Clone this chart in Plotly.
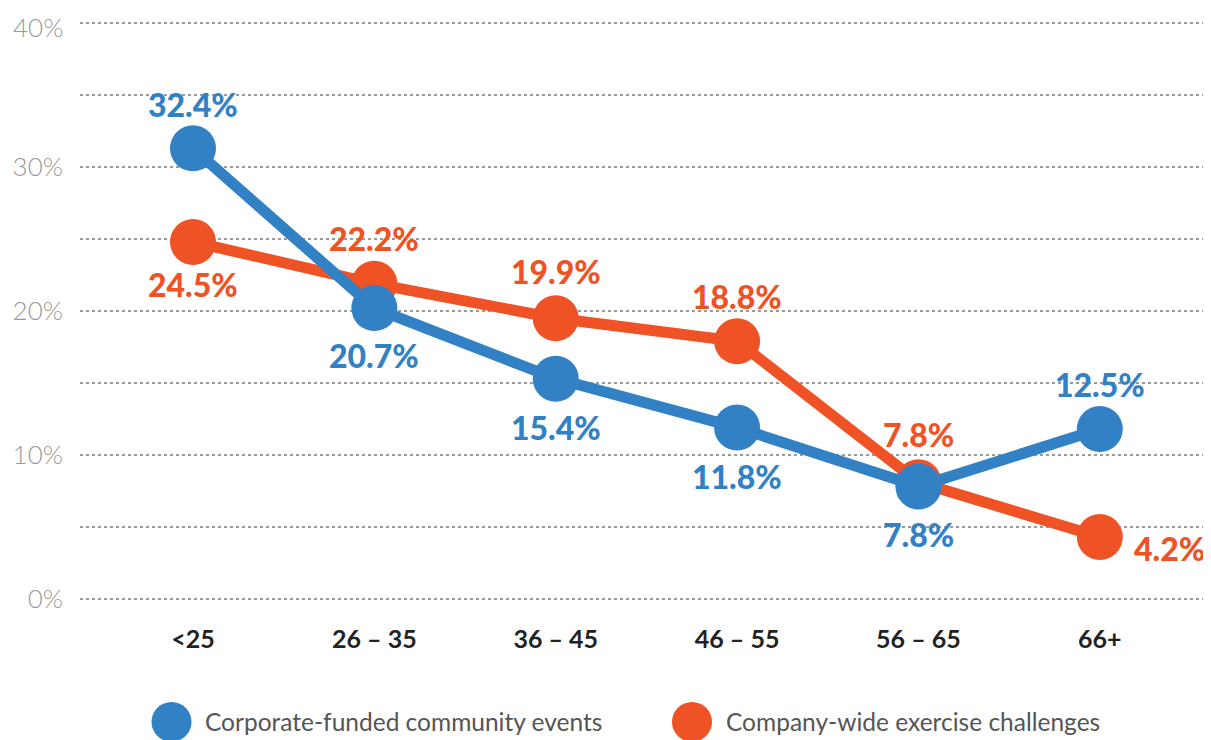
import plotly.graph_objects as go

categories = ["<25", "26 – 35", "36 – 45", "46 – 55", "56 – 65", "66+"]
community_values = [31.3, 20.2, 15.3, 11.9, 7.8, 11.8]
community_labels = ["32.4%", "20.7%", "15.4%", "11.8%", "7.8%", "12.5%"]
exercise_values = [24.8, 21.9, 19.5, 17.9, 8.1, 4.3]
exercise_labels = ["24.5%", "22.2%", "19.9%", "18.8%", "7.8%", "4.2%"]
series_names = ["Corporate-funded community events", "Company-wide exercise challenges"]
y_ticks = [0, 5, 10, 15, 20, 25, 30, 35, 40]
y_ticktext = ["0%", "", "10%", "", "20%", "", "30%", "", "40%"]

BLUE = "#3381C5"
ORANGE = "#EF5224"
FONT = "Lato, 'Open Sans', sans-serif"

x = list(range(len(categories)))

fig = go.Figure()
fig.add_trace(go.Scatter(x=x, y=exercise_values, mode="lines+markers",
                         line=dict(color=ORANGE, width=11),
                         marker=dict(color=ORANGE, size=46),
                         cliponaxis=False, showlegend=False, name=series_names[1]))
fig.add_trace(go.Scatter(x=x, y=community_values, mode="lines+markers",
                         line=dict(color=BLUE, width=11),
                         marker=dict(color=BLUE, size=46),
                         cliponaxis=False, showlegend=False, name=series_names[0]))

# label placement (pixel offsets)
blue_pos = [(0, 44), (0, -47), (0, -49), (0, -49), (0, -48), (0, 45)]
orange_pos = [(0, -43), (0, 45), (0, 47), (0, 45), (0, 48), (70, -12)]

annotations = []
for i, (v, t) in enumerate(zip(community_values, community_labels)):
    dx, dy = blue_pos[i]
    annotations.append(dict(x=i, y=v, text=t, showarrow=False, xshift=dx, yshift=dy,
                            font=dict(family=FONT, size=32, color=BLUE, weight=900)))
for i, (v, t) in enumerate(zip(exercise_values, exercise_labels)):
    dx, dy = orange_pos[i]
    annotations.append(dict(x=i, y=v, text=t, showarrow=False, xshift=dx, yshift=dy,
                            font=dict(family=FONT, size=32, color=ORANGE, weight=900)))

# top tick label as an annotation so it stays inside the page
tick_font = dict(family=FONT, size=26, color="#999999", weight=300)
annotations.append(dict(x=0, xref="paper", y=y_ticks[-1], yref="y", text=y_ticktext[-1],
                        showarrow=False, xanchor="right", yanchor="middle",
                        xshift=-15, yshift=-4, font=tick_font))
axis_ticktext = y_ticktext[:-1] + [""]

# legend drawn manually (positions relative to plot area left edge at screen x=80)
legend_y = -0.211
shapes = []
for cx, col in [(171.5, BLUE), (692, ORANGE)]:
    px = (cx - 80) / 1125
    shapes.append(dict(type="circle", xref="paper", yref="paper",
                       xsizemode="pixel", ysizemode="pixel",
                       xanchor=px, yanchor=legend_y,
                       x0=-20, x1=20, y0=-20, y1=20,
                       fillcolor=col, line=dict(width=0)))
for tx, name in [(203, series_names[0]), (724, series_names[1])]:
    annotations.append(dict(x=(tx - 80) / 1125, y=legend_y, xref="paper", yref="paper",
                            text=name, showarrow=False, xanchor="left", yanchor="middle",
                            font=dict(family=FONT, size=24.5, color="#555555")))

fig.update_layout(
    width=1211, height=740,
    margin=dict(l=72, r=14, t=14, b=148),
    plot_bgcolor="white", paper_bgcolor="white",
    annotations=annotations, shapes=shapes,
    showlegend=False,
)
fig.update_xaxes(range=[-0.623, 5.58], tickvals=x, ticktext=categories,
                 showgrid=False, zeroline=False, showline=False, automargin=False,
                 ticks="", ticklabelstandoff=22, ticklabeloverflow="allow",
                 tickfont=dict(family=FONT, size=25, color="#222222", weight="bold"))
fig.update_yaxes(range=[-0.08, 40.08], tickvals=y_ticks, ticktext=axis_ticktext,
                 showgrid=True, gridcolor="#9a9a9a", gridwidth=2, griddash="dot",
                 zeroline=False, showline=False, ticks="", ticklabelstandoff=16,
                 automargin=False, ticklabeloverflow="allow",
                 tickfont=tick_font)

fig.write_html("out.html")
